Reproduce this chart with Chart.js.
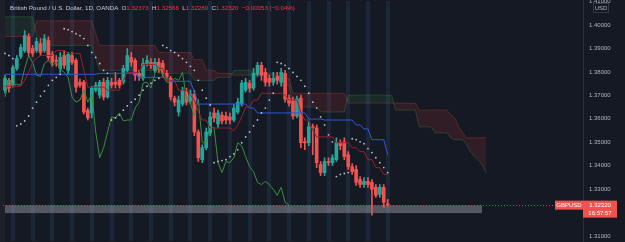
<!DOCTYPE html>
<html><head><meta charset="utf-8">
<script src="https://cdn.jsdelivr.net/npm/chart.js@4.4.1/dist/chart.umd.min.js"></script>
<style>
html,body{margin:0;padding:0;background:#151924;overflow:hidden;}
#wrap{position:relative;width:625px;height:242px;}
canvas{display:block;}
#title{position:absolute;left:10px;top:3px;font:6.2px "Liberation Sans",Arial,sans-serif;color:#c9ccd4;white-space:pre;line-height:9px;}
.r{color:#f23645}
</style></head><body>
<div id="wrap"><canvas id="c" width="625" height="242"></canvas>
<div id="title">British Pound / U.S. Dollar, 1D, OANDA  O<span class="r">1.32373</span>  H<span class="r">1.32566</span>  L<span class="r">1.32280</span>  C<span class="r">1.32320</span>  <span class="r">−0.00053 (−0.04%)</span></div></div>
<script>
// ---- data (daily candles, GBPUSD) ----
const opens = [1.3722,1.3764,1.3743,1.3815,1.3866,1.3891,1.3950,1.3900,1.3891,1.3921,
1.3891,1.3934,1.3875,1.3849,1.3815,1.3870,1.3807,1.3870,1.3849,1.3756,
1.3756,1.3637,1.3625,1.3722,1.3701,1.3756,1.3693,1.3756,1.3756,1.3764,
1.3756,1.3807,1.3862,1.3849,1.3794,1.3773,1.3836,1.3841,1.3807,1.3841,
1.3836,1.3794,1.3773,1.3688,1.3629,1.3663,1.3718,1.3676,1.3705,1.3544,
1.3426,1.3477,1.3540,1.3625,1.3578,1.3616,1.3612,1.3608,1.3595,1.3629,
1.3663,1.3722,1.3752,1.3731,1.3790,1.3828,1.3798,1.3773,1.3756,1.3781,
1.3756,1.3794,1.3688,1.3680,1.3612,1.3688,1.3502,1.3498,1.3566,1.3561,
1.3405,1.3371,1.3418,1.3413,1.3426,1.3498,1.3502,1.3447,1.3396,1.3384,
1.3341,1.3320,1.3333,1.3329,1.3308,1.3278,1.3308,1.32373];
const highs = [1.3786,1.3773,1.3828,1.3870,1.3917,1.3976,1.3963,1.3913,1.3946,1.3942,
1.3959,1.3950,1.3887,1.3870,1.3883,1.3891,1.3883,1.3883,1.3857,1.3769,
1.3764,1.3646,1.3739,1.3756,1.3764,1.3773,1.3777,1.3773,1.3798,1.3773,
1.3828,1.3900,1.3883,1.3857,1.3807,1.3857,1.3870,1.3857,1.3857,1.3857,
1.3849,1.3807,1.3781,1.3697,1.3697,1.3735,1.3731,1.3722,1.3722,1.3553,
1.3489,1.3561,1.3629,1.3646,1.3637,1.3629,1.3629,1.3625,1.3663,1.3688,
1.3764,1.3773,1.3764,1.3815,1.3841,1.3841,1.3815,1.3786,1.3798,1.3798,
1.3815,1.3807,1.3701,1.3693,1.3697,1.3701,1.3519,1.3587,1.3578,1.3574,
1.3418,1.3434,1.3434,1.3447,1.3519,1.3511,1.3519,1.3460,1.3409,1.3401,
1.3354,1.3350,1.3350,1.3341,1.3320,1.3320,1.3320,1.32566];
const lows = [1.3709,1.3714,1.3735,1.3807,1.3857,1.3883,1.3870,1.3866,1.3883,1.3870,
1.3883,1.3849,1.3824,1.3824,1.3798,1.3815,1.3790,1.3832,1.3714,1.3735,
1.3621,1.3595,1.3604,1.3714,1.3688,1.3680,1.3688,1.3731,1.3731,1.3731,
1.3748,1.3798,1.3824,1.3764,1.3764,1.3764,1.3824,1.3815,1.3798,1.3798,
1.3781,1.3764,1.3680,1.3655,1.3612,1.3655,1.3659,1.3663,1.3528,1.3418,
1.3413,1.3468,1.3528,1.3587,1.3561,1.3578,1.3578,1.3578,1.3587,1.3621,
1.3654,1.3714,1.3714,1.3722,1.3781,1.3764,1.3739,1.3739,1.3743,1.3748,
1.3739,1.3671,1.3654,1.3599,1.3604,1.3477,1.3468,1.3485,1.3447,1.3392,
1.3358,1.3358,1.3401,1.3401,1.3418,1.3468,1.3426,1.3384,1.3363,1.3316,
1.3308,1.3308,1.3308,1.3189,1.3265,1.3265,1.3223,1.32280];
const closes = [1.3773,1.3731,1.3819,1.3857,1.3904,1.3955,1.3883,1.3879,1.3930,1.3883,
1.3942,1.3862,1.3841,1.3845,1.3862,1.3828,1.3875,1.3841,1.3735,1.3743,
1.3629,1.3604,1.3731,1.3743,1.3756,1.3693,1.3764,1.3743,1.3748,1.3743,
1.3815,1.3870,1.3841,1.3786,1.3781,1.3836,1.3849,1.3828,1.3841,1.3815,
1.3798,1.3777,1.3693,1.3671,1.3680,1.3722,1.3671,1.3705,1.3544,1.3434,
1.3477,1.3544,1.3608,1.3604,1.3625,1.3591,1.3595,1.3595,1.3646,1.3671,
1.3752,1.3756,1.3731,1.3794,1.3828,1.3786,1.3756,1.3756,1.3773,1.3764,
1.3798,1.3684,1.3667,1.3612,1.3684,1.3498,1.3498,1.3566,1.3561,1.3413,
1.3371,1.3418,1.3413,1.3434,1.3498,1.3485,1.3439,1.3396,1.3375,1.3329,
1.3320,1.3333,1.3320,1.3299,1.3274,1.3308,1.3244,1.32320];
// Ichimoku conversion (red) and base (blue) lines
const tenkan = [1.3739,1.3739,1.3739,1.3739,1.3739,1.3764,1.3798,1.3841,1.3857,1.3870,
1.3870,1.3870,1.3870,1.3891,1.3891,1.3891,1.3879,1.3879,1.3879,1.3879,
1.3807,1.3735,1.3735,1.3735,1.3735,1.3735,1.3722,1.3722,1.3722,1.3722,
1.3764,1.3798,1.3798,1.3798,1.3798,1.3832,1.3832,1.3832,1.3832,1.3815,
1.3815,1.3764,1.3764,1.3764,1.3722,1.3722,1.3722,1.3701,1.3680,1.3629,
1.3595,1.3595,1.3561,1.3561,1.3561,1.3561,1.3561,1.3561,1.3549,1.3574,
1.3608,1.3650,1.3650,1.3680,1.3680,1.3709,1.3709,1.3709,1.3709,1.3709,
1.3709,1.3701,1.3680,1.3680,1.3680,1.3629,1.3595,1.3595,1.3553,1.3523,
1.3523,1.3523,1.3523,1.3523,1.3498,1.3498,1.3498,1.3498,1.3477,1.3477,
1.3460,1.3460,1.3426,1.3426,1.3392,1.3392,1.3363,1.3363];
const kijun = [1.3790,1.3790,1.3790,1.3790,1.3790,1.3790,1.3790,1.3790,1.3790,1.3790,
1.3790,1.3790,1.3790,1.3790,1.3790,1.3790,1.3790,1.3790,1.3790,1.3790,
1.3790,1.3790,1.3790,1.3790,1.3794,1.3794,1.3794,1.3794,1.3794,1.3794,
1.3794,1.3794,1.3794,1.3794,1.3777,1.3777,1.3777,1.3777,1.3777,1.3777,
1.3777,1.3777,1.3760,1.3760,1.3760,1.3760,1.3760,1.3760,1.3714,1.3663,
1.3663,1.3663,1.3663,1.3663,1.3663,1.3663,1.3663,1.3663,1.3663,1.3663,
1.3663,1.3663,1.3646,1.3646,1.3625,1.3625,1.3625,1.3625,1.3625,1.3625,
1.3625,1.3625,1.3625,1.3625,1.3625,1.3625,1.3625,1.3599,1.3599,1.3599,
1.3599,1.3595,1.3595,1.3595,1.3595,1.3595,1.3595,1.3595,1.3595,1.3574,
1.3574,1.3557,1.3557,1.3511,1.3511,1.3511,1.3511,1.3447];
// leading spans (plotted 25 bars ahead)
const spanA = [1.4035,1.4035,1.4035,1.4035,1.4035,1.4035,1.4035,1.4035,1.3955,1.3946,
1.3934,1.3925,1.3913,1.3913,1.3913,1.3913,1.3913,1.3913,1.3913,1.3913,
1.3913,1.3913,1.3913,1.3857,1.3807,1.3807,1.3807,1.3807,1.3807,1.3807,
1.3807,1.3807,1.3807,1.3807,1.3807,1.3807,1.3807,1.3807,1.3807,1.3794,
1.3794,1.3794,1.3794,1.3794,1.3794,1.3794,1.3794,1.3794,1.3764,1.3764,
1.3764,1.3764,1.3764,1.3764,1.3777,1.3777,1.3777,1.3777,1.3807,1.3807,
1.3807,1.3807,1.3807,1.3794,1.3794,1.3794,1.3794,1.3794,1.3794,1.3794,
1.3743,1.3743,1.3743,1.3650,1.3650,1.3650,1.3650,1.3650,1.3650,1.3650,
1.3629,1.3629,1.3629,1.3629,1.3629,1.3629,1.3629,1.3701,1.3701,1.3701,
1.3701,1.3701,1.3701,1.3701,1.3701,1.3701,1.3701,1.3701,1.3701,1.3637,
1.3637,1.3637,1.3637,1.3637,1.3637,1.3566,1.3566,1.3566,1.3566,1.3540,
1.3540,1.3540,1.3540,1.3519,1.3511,1.3511,1.3511,1.3490,1.3460,1.3439,
1.3426,1.3401,1.3371];
const spanB = [1.3951,1.3951,1.3951,1.3951,1.3951,1.3951,1.3951,1.3951,1.4018,1.4018,
1.4018,1.4018,1.4018,1.4018,1.4018,1.4018,1.4018,1.4018,1.4018,1.4018,
1.4018,1.4018,1.4018,1.3963,1.3913,1.3913,1.3913,1.3913,1.3913,1.3913,
1.3913,1.3913,1.3913,1.3913,1.3913,1.3913,1.3913,1.3913,1.3913,1.3883,
1.3883,1.3883,1.3883,1.3883,1.3883,1.3883,1.3883,1.3883,1.3853,1.3853,
1.3853,1.3807,1.3807,1.3807,1.3794,1.3794,1.3794,1.3794,1.3786,1.3786,
1.3786,1.3786,1.3786,1.3786,1.3786,1.3786,1.3786,1.3786,1.3786,1.3786,
1.3773,1.3773,1.3773,1.3709,1.3709,1.3709,1.3709,1.3709,1.3709,1.3709,
1.3709,1.3709,1.3709,1.3709,1.3709,1.3709,1.3709,1.3667,1.3667,1.3667,
1.3667,1.3667,1.3667,1.3667,1.3667,1.3667,1.3667,1.3667,1.3667,1.3667,
1.3667,1.3667,1.3667,1.3667,1.3667,1.3637,1.3637,1.3637,1.3637,1.3637,
1.3637,1.3637,1.3637,1.3616,1.3604,1.3566,1.3540,1.3519,1.3519,1.3519,
1.3519,1.3519,1.3519];
// parabolic SAR dots
const sar = [1.3879,1.3870,1.3857,
1.3570,1.3578,1.3591,1.3612,1.3646,1.3671,1.3697,1.3718,1.3743,1.3764,1.3777,1.3790,
1.3984,1.3980,1.3972,1.3963,1.3955,1.3942,1.3913,1.3883,1.3862,1.3836,1.3807,1.3794,
1.3595,1.3604,1.3616,1.3637,1.3655,1.3671,1.3684,1.3701,1.3722,1.3739,1.3752,1.3764,1.3773,
1.3913,1.3904,1.3891,1.3883,1.3870,1.3857,1.3841,1.3824,1.3807,1.3764,1.3722,1.3688,1.3659,
1.3413,1.3418,1.3422,1.3426,1.3439,1.3451,1.3468,1.3498,1.3523,1.3544,1.3570,1.3595,1.3625,1.3646,1.3680,1.3709,
1.3841,1.3836,1.3828,1.3815,1.3798,1.3781,1.3764,1.3739,1.3709,1.3671,1.3646,1.3608,1.3574,1.3532,1.3502,
1.3354,1.3363,1.3367,1.3371,
1.3515,1.3511,1.3502,1.3494,1.3473,1.3456,1.3434,1.3413,1.3392,1.3371];
const laggingShift = 25;
const priceTicks = [1.31,1.32,1.33,1.34,1.35,1.36,1.37,1.38,1.39,1.40,1.41];
const lastTime = '16:57:57';
const symbol = 'GBPUSD';
const currency = 'USD';
const bandFrom = 0, bandTo = 120.9, bandTop = 1.3231, bandBottom = 1.3198;
const slots = 147;

// ---- build ----
const labels = Array.from({length: slots}, (_, i) => i);
const up = '#26a69a', dn = '#f05350';
const candleColors = closes.map((c, i) => c >= opens[i] ? up : dn);
const bodies = opens.map((o, i) => [o, closes[i]]);
const wicks = lows.map((l, i) => [l, highs[i]]);
const chikou = closes.slice(laggingShift);
const bg = '#151924';
const FONT = '"Liberation Sans", Arial, sans-serif';

const deco = {
  id: 'deco',
  beforeDraw(chart) {
    const c = chart.ctx; c.save();
    c.fillStyle = bg; c.fillRect(0, 0, chart.width, chart.height);
    c.fillStyle = '#1d2029'; c.fillRect(0, 0, 5, chart.height);
    c.restore();
  },
  beforeDatasetsDraw(chart) {
    const {ctx, scales: {x, y}} = chart; ctx.save();
    const x0 = x.getPixelForValue(bandFrom), x1 = x.getPixelForValue(bandTo);
    const y0 = y.getPixelForValue(bandTop), y1 = y.getPixelForValue(bandBottom);
    ctx.fillStyle = 'rgba(170,173,182,0.42)';
    ctx.fillRect(x0, y0, x1 - x0, y1 - y0);
    ctx.restore();
  },
  afterDatasetsDraw(chart) {
    const {ctx, chartArea: a, scales: {y}} = chart; ctx.save();
    const py = Math.round(y.getPixelForValue(closes[closes.length - 1])) + 0.5;
    ctx.strokeStyle = 'rgba(239,83,80,0.75)'; ctx.lineWidth = 1; ctx.setLineDash([1, 2]);
    ctx.beginPath(); ctx.moveTo(a.left, py); ctx.lineTo(a.right, py); ctx.stroke();
    ctx.restore();
  },
  afterDraw(chart) {
    const {ctx, chartArea: a, scales: {y}} = chart; ctx.save();
    ctx.font = '6px ' + FONT; ctx.textBaseline = 'middle'; ctx.textAlign = 'left';
    ctx.fillStyle = '#b2b5be';
    priceTicks.forEach(v => ctx.fillText(v.toFixed(5), a.right + 6, y.getPixelForValue(v)));
    // currency box
    ctx.fillStyle = bg; ctx.fillRect(593, 3, 16, 10);
    ctx.strokeStyle = '#363a45'; ctx.lineWidth = 1; ctx.strokeRect(593.5, 3.5, 15, 9);
    ctx.fillStyle = '#b2b5be'; ctx.textAlign = 'center'; ctx.fillText(currency, 601, 8.2);
    // last price labels
    const last = closes[closes.length - 1];
    const py = y.getPixelForValue(last);
    ctx.fillStyle = '#ef5350';
    ctx.fillRect(555, py - 4.5, 28, 9);
    ctx.fillRect(a.right, py - 4.5, 34, 17);
    ctx.fillStyle = '#ffffff';
    ctx.fillText(symbol, 569, py + 0.3);
    ctx.fillText(last.toFixed(5), a.right + 17, py + 0.3);
    ctx.fillText(lastTime, a.right + 17, py + 8.3);
    ctx.restore();
  }
};

new Chart(document.getElementById('c'), {
  type: 'bar',
  data: {
    labels,
    datasets: [
      {type: 'line', data: sar, showLine: false, pointRadius: 0.9, pointHoverRadius: 0,
       pointBackgroundColor: 'rgba(215,218,226,0.85)', pointBorderWidth: 0, order: 0},
      {type: 'line', data: kijun, borderColor: '#2a5bd7', borderWidth: 1, pointRadius: 0, order: 1},
      {type: 'line', data: tenkan, borderColor: '#9a1f2b', borderWidth: 1, pointRadius: 0, order: 2},
      {type: 'line', data: chikou, borderColor: '#3a8e3e', borderWidth: 1, pointRadius: 0, order: 3},
      {data: bodies, backgroundColor: candleColors, barThickness: 3, grouped: false, minBarLength: 1, borderWidth: 0, order: 4},
      {data: wicks, backgroundColor: candleColors, barThickness: 1, grouped: false, borderWidth: 0, order: 5},
      {type: 'line', data: spanA, borderColor: 'rgba(67,160,71,0.28)', borderWidth: 1, pointRadius: 0, order: 6,
       fill: {target: 7, above: 'rgba(67,160,71,0.13)', below: 'rgba(244,67,54,0.12)'}},
      {type: 'line', data: spanB, borderColor: 'rgba(244,67,54,0.28)', borderWidth: 1, pointRadius: 0, order: 7, fill: false}
    ]
  },
  options: {
    responsive: false, animation: false, devicePixelRatio: 1,
    layout: {padding: {left: 3, top: 0, right: 0, bottom: 0}},
    plugins: {legend: {display: false}, tooltip: {enabled: false}},
    scales: {
      x: {type: 'category', offset: true, ticks: {display: false, autoSkip: false},
          border: {display: false},
          grid: {offset: false, drawTicks: false, lineWidth: 4,
                 color: ctx => (ctx.index % 5 === 2 && ctx.index <= 97) ? 'rgba(62,92,145,0.2)' : 'rgba(0,0,0,0)'},
          afterFit: s => { s.height = 0; }},
      y: {position: 'right', min: 1.30787, max: 1.41028,
          ticks: {display: false}, grid: {display: false, drawTicks: false},
          border: {display: true, color: '#2a2e39'},
          afterFit: s => { s.width = 42; }}
    }
  },
  plugins: [deco]
});
</script>
</body></html>
